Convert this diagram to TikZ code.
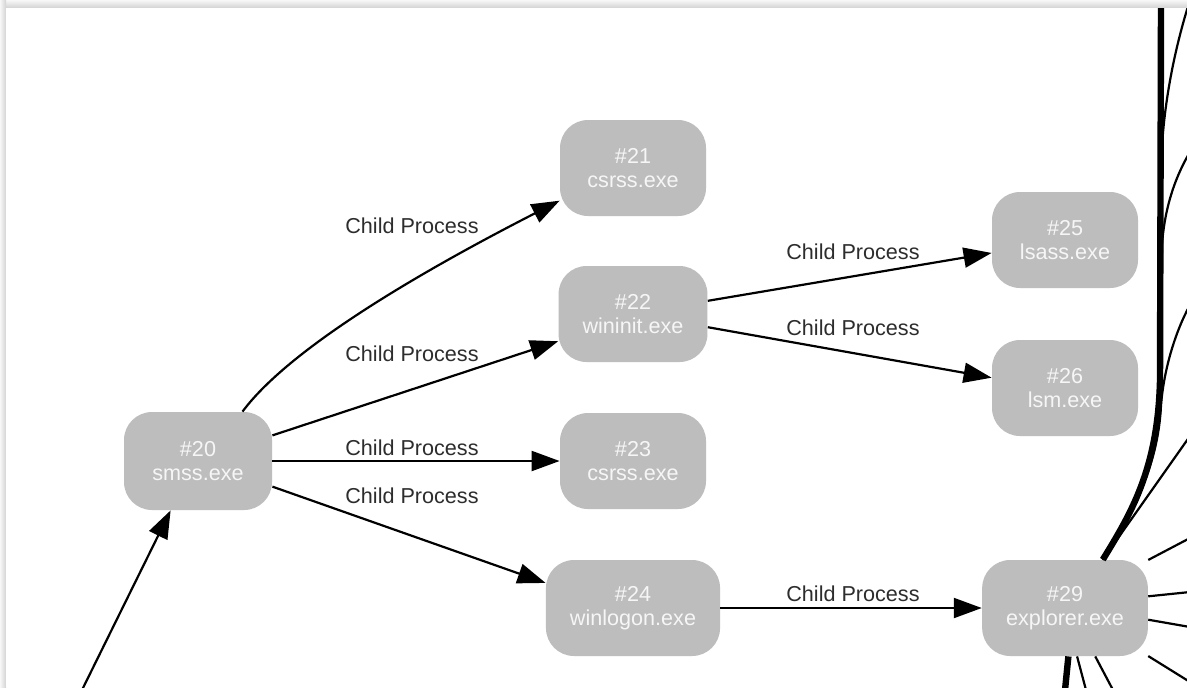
\documentclass[tikz,border=0pt]{standalone}
\usepackage{fontspec}
\setmainfont{Liberation Sans}
\usetikzlibrary{arrows.meta}
\definecolor{nodegray}{RGB}{189,189,189}
\definecolor{nodetext}{RGB}{246,246,246}
\definecolor{labeltext}{RGB}{45,45,45}
\begin{document}
\begin{tikzpicture}[x=0.5pt,y=-0.5pt,
  proc/.style={rectangle, rounded corners=14pt, fill=nodegray, text=nodetext,
    minimum width=73pt, minimum height=48pt, inner xsep=12pt, align=center,
    font=\fontsize{10.8}{12}\selectfont},
  childedge/.style={line width=1.1pt, -{Triangle[length=14pt,width=10pt]}},
  lbl/.style={text=labeltext, font=\fontsize{10.8}{12}\selectfont, inner sep=0pt},
  outedge/.style={line width=1.1pt},
  heavyedge/.style={line width=3.2pt},
]
\useasboundingbox (0,0) rectangle (1187,687);
\shade[top color=gray!6, bottom color=gray!35] (0,0) rectangle (1187,8);
\shade[left color=gray!6, right color=gray!35] (0,0) rectangle (6,687);
\fill[white] (6,8) rectangle (1187,687);
\begin{scope}
\clip (6,8) rectangle (1187,687);
% nodes
\node[proc, minimum width=74pt, minimum height=49pt] (n20) at (198,461) {\#20\\smss.exe};
\node[proc] (n21) at (633,168) {\#21\\csrss.exe};
\node[proc] (n22) at (633,314) {\#22\\wininit.exe};
\node[proc] (n23) at (633,461) {\#23\\csrss.exe};
\node[proc] (n24) at (633,608) {\#24\\winlogon.exe};
\node[proc] (n25) at (1065,240) {\#25\\lsass.exe};
\node[proc] (n26) at (1065,388) {\#26\\lsm.exe};
\node[proc] (n29) at (1065,608) {\#29\\explorer.exe};
% off-picture ends
\coordinate (in0) at (82,690);
\coordinate (oTop) at (1161,0);
\coordinate (oA) at (1190,0);
\coordinate (oB) at (1190,152);
\coordinate (oC) at (1190,305);
\coordinate (oD) at (1190,436);
\coordinate (oR1) at (1190,538);
\coordinate (oR2) at (1190,592);
\coordinate (oR3) at (1190,627);
\coordinate (oR4) at (1190,682);
\coordinate (oS1) at (1065,690);
\coordinate (oS2) at (1086,690);
\coordinate (oS3) at (1113,690);
% labels
\node[lbl] (l1) at (412,226) {Child Process};
\node[lbl] (l2) at (412,354) {Child Process};
\node[lbl] (l3) at (412,448) {Child Process};
\node[lbl] (l4) at (412,496) {Child Process};
\node[lbl] (l5) at (853,252) {Child Process};
\node[lbl] (l6) at (853,328) {Child Process};
\node[lbl] (l7) at (853,594) {Child Process};
% edges
\draw[childedge] (in0) -- (n20.241);
\draw[childedge] (n20.48) .. controls (292,345) and (432,266) .. (n21.204);
\draw[childedge] (n20.19) -- (n22.200);
\draw[childedge] (n20.east) -- (n23.west);
\draw[childedge] (n20.-19) -- (n24.164);
\draw[childedge] (n22.10) -- (n25.190);
\draw[childedge] (n22.-10) -- (n26.172);
\draw[childedge] (n24.east) -- (n29.west);
% bundle of edges leaving explorer.exe
\draw[heavyedge] (n29.52) .. controls (1130,515) and (1158,470) .. (1160,380) -- (oTop);
\draw[outedge] (n29.52) .. controls (1130,515) and (1158,470) .. (1160,380) -- (1161,170) .. controls (1162,110) and (1174,50) .. (oA);
\draw[outedge] (n29.52) .. controls (1130,515) and (1158,470) .. (1160,380) -- (1162,245) .. controls (1164,215) and (1172,182) .. (oB);
\draw[outedge] (n29.52) .. controls (1130,515) and (1158,470) .. (1161,405) .. controls (1164,368) and (1176,330) .. (oC);
\draw[outedge] (n29.52) -- (oD);
\draw[outedge] (n29.30) -- (oR1);
\draw[outedge] (n29.8) -- (oR2);
\draw[outedge] (n29.-8) -- (oR3);
\draw[outedge] (n29.-30) -- (oR4);
\draw[heavyedge] (n29.-86) -- (oS1);
\draw[outedge] (n29.-76) -- (oS2);
\draw[outedge] (n29.-58) -- (oS3);
\end{scope}
\end{tikzpicture}
\end{document}
